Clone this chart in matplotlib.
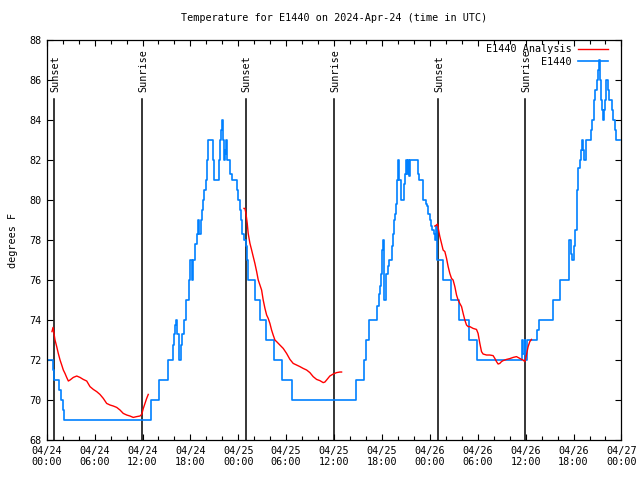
import matplotlib
matplotlib.use('Agg')
import matplotlib.pyplot as plt
from matplotlib.lines import Line2D
from matplotlib.ticker import MultipleLocator

plt.rcParams['font.family'] = ['DejaVu Sans Mono']
plt.rcParams['font.size'] = 7.3

# E1440 observations: hours since 2024-04-24 00:00 UTC, temperature (F), step changes
obs_hours = [0.00, 0.83, 0.91, 1.50, 1.75, 2.00, 2.17, 13.02, 14.10, 15.19,
             15.78, 15.94, 16.10, 16.19, 16.35, 16.53, 16.60, 16.82, 16.98, 17.16,
             17.41, 17.82, 17.94, 18.16, 18.36, 18.61, 18.78, 18.95, 19.11, 19.28,
             19.41, 19.53, 19.74, 19.91, 20.04, 20.16, 20.24, 20.79, 20.95, 21.54,
             21.70, 21.86, 21.95, 22.08, 22.16, 22.29, 22.36, 22.49, 22.61, 22.99,
             23.17, 23.79, 23.99, 24.20, 24.33, 24.49, 24.71, 24.92, 25.04, 25.24,
             26.12, 26.71, 27.46, 28.50, 29.43, 30.72, 38.77, 39.73, 39.98, 40.32,
             41.40, 41.57, 41.74, 41.86, 41.99, 42.07, 42.20, 42.27, 42.45, 42.52,
             42.70, 42.86, 43.20, 43.33, 43.45, 43.58, 43.70, 43.83, 43.90, 44.03,
             44.15, 44.33, 44.40, 44.74, 44.87, 44.99, 45.15, 45.24, 45.40, 45.53,
             46.49, 46.62, 47.16, 47.46, 47.66, 47.78, 47.96, 48.12, 48.28, 48.46,
             48.59, 48.71, 48.84, 48.91, 49.66, 50.66, 51.67, 52.92, 53.92, 59.52,
             59.68, 59.86, 59.98, 60.11, 61.43, 61.68, 63.44, 64.27, 65.37, 65.44,
             65.69, 65.82, 66.03, 66.19, 66.37, 66.49, 66.62, 66.78, 66.94, 67.07,
             67.24, 67.32, 67.53, 67.62, 68.19, 68.37, 68.53, 68.75, 68.91, 69.07,
             69.20, 69.28, 69.41, 69.53, 69.66, 69.78, 69.95, 70.12, 70.29, 70.45,
             70.79, 70.95, 71.20, 71.38, 71.80]
obs_temps = [72, 71.5, 71, 70.5, 70, 69.5, 69, 70, 71, 72,
             72.75, 73.3, 73.75, 74, 73.3, 72.25, 72, 72.75, 73.3, 74,
             75, 76, 77, 76, 77, 77.8, 78.3, 79, 78.3, 79,
             79.5, 80, 80.5, 81, 82, 82.5, 83, 82, 81, 82,
             83, 83.5, 84, 83, 82, 82.5, 82.3, 83, 82, 81.3,
             81, 80.5, 80, 79.5, 79, 78.3, 78, 77.7, 77, 76,
             75, 74, 73, 72, 71, 70, 71, 72, 73, 74,
             74.7, 75.3, 75.7, 76.3, 77.5, 78, 76.3, 75, 75.3, 76.3,
             76.7, 77, 77.7, 78.3, 79, 79.3, 79.8, 80.5, 81, 82,
             81, 80.5, 80, 80.8, 81.3, 82, 81.3, 82, 81.2, 82,
             81.3, 81, 80, 79.8, 79.7, 79.3, 79, 78.7, 78.5, 78.3,
             78, 78.7, 78, 77, 76, 75, 74, 73, 72, 73,
             72.3, 73, 72, 73, 73.5, 74, 75, 76, 76.5, 78,
             77.3, 77, 77.7, 78.5, 79.5, 80.5, 81.6, 82, 82.5, 83,
             82.5, 82, 82.5, 83, 83.5, 84, 85, 85.5, 86, 86.5,
             87, 86, 85, 84.5, 84, 84.5, 85, 86, 85.5, 85,
             84.5, 84, 83.5, 83, 83]

# E1440 analysis (three evening runs)
an1_hours = [0.66, 0.79, 0.91, 1.04, 1.25, 1.45, 1.67, 1.88, 2.08, 2.29,
             2.50, 2.71, 2.92, 3.33, 3.76, 4.17, 4.58, 5.01, 5.42, 5.84,
             6.26, 6.67, 7.09, 7.51, 7.93, 8.34, 8.77, 9.18, 9.59, 10.02,
             10.43, 10.84, 11.27, 11.68, 11.90, 12.10, 12.31, 12.52, 12.72]
an1_temps = [73.42, 73.63, 73.33, 73.0, 72.67, 72.33, 72.0, 71.75, 71.5, 71.33,
             71.13, 70.95, 71.0, 71.13, 71.2, 71.13, 71.03, 70.95, 70.67, 70.53,
             70.42, 70.28, 70.08, 69.83, 69.75, 69.7, 69.63, 69.5, 69.33, 69.25,
             69.2, 69.13, 69.17, 69.2, 69.28, 69.58, 69.83, 70.08, 70.28]
an2_hours = [24.71, 24.83, 24.96, 25.12, 25.24, 25.46, 25.67, 25.87, 26.08, 26.30,
             26.50, 26.71, 26.92, 27.12, 27.34, 27.55, 27.75, 27.96, 28.17, 28.37,
             28.59, 28.80, 29.21, 29.63, 30.05, 30.47, 30.88, 31.30, 31.72, 32.13,
             32.56, 32.97, 33.38, 33.81, 34.22, 34.64, 34.85, 35.06, 35.47, 35.89,
             36.31, 36.73, 36.94]
an2_temps = [79.58, 79.58, 79.33, 78.83, 78.33, 77.83, 77.5, 77.17, 76.83, 76.42,
             76.0, 75.75, 75.5, 75.0, 74.58, 74.25, 74.08, 73.83, 73.5, 73.25,
             73.0, 72.92, 72.75, 72.58, 72.33, 72.03, 71.83, 71.75, 71.67, 71.58,
             71.5, 71.37, 71.17, 71.03, 70.97, 70.87, 70.9, 71.0, 71.2, 71.3,
             71.37, 71.4, 71.4]
an3_hours = [48.62, 48.84, 48.96, 49.09, 49.25, 49.46, 49.66, 49.88, 50.09, 50.29,
             50.50, 50.71, 50.91, 51.13, 51.34, 51.54, 51.75, 51.97, 52.17, 52.38,
             52.59, 52.79, 53.01, 53.42, 53.84, 54.04, 54.26, 54.47, 54.67, 55.10,
             55.51, 55.92, 56.14, 56.35, 56.55, 56.76, 56.97, 57.18, 57.60, 58.01,
             58.43, 58.85, 59.27, 59.48, 59.68, 59.89, 60.02, 60.18, 60.31, 60.52,
             60.73]
an3_temps = [78.7, 78.75, 78.8, 78.5, 78.17, 77.83, 77.5, 77.42, 77.08, 76.67,
             76.33, 76.08, 76.0, 75.67, 75.25, 75.0, 74.83, 74.67, 74.33, 74.0,
             73.75, 73.67, 73.67, 73.58, 73.53, 73.33, 72.83, 72.42, 72.3, 72.25,
             72.25, 72.22, 72.08, 71.92, 71.8, 71.83, 71.92, 71.97, 72.03, 72.07,
             72.13, 72.17, 72.08, 72.03, 72.0, 71.92, 72.08, 72.42, 72.67, 72.92,
             73.03]

sun_hours = [0.95, 11.97, 24.96, 36.01, 49.04, 59.93]
sun_labels = ['Sunset', 'Sunrise', 'Sunset', 'Sunrise', 'Sunset', 'Sunrise']

tick_hours = list(range(0, 73, 6))
tick_labels = ['04/24\n00:00', '04/24\n06:00', '04/24\n12:00', '04/24\n18:00',
               '04/25\n00:00', '04/25\n06:00', '04/25\n12:00', '04/25\n18:00',
               '04/26\n00:00', '04/26\n06:00', '04/26\n12:00', '04/26\n18:00',
               '04/27\n00:00']

red = '#ff0000'
blue = '#0080ff'

fig = plt.figure(figsize=(6.4, 4.8), dpi=100)
ax = fig.add_axes([0.073, 0.0833, 0.898, 0.8333])

for h, lab in zip(sun_hours, sun_labels):
    ax.plot([h, h], [68, 85.05], color='black', lw=1.1, zorder=1)
    ax.text(h + 0.1, 85.4, lab, rotation=90, ha='center', va='bottom')

for hh, tt in [(an1_hours, an1_temps), (an2_hours, an2_temps), (an3_hours, an3_temps)]:
    ax.plot(hh, tt, color=red, lw=1.0, zorder=3)
ax.plot(obs_hours, obs_temps, color=blue, lw=1.2, drawstyle='steps-post', zorder=2)

ax.set_xlim(0, 72)
ax.set_ylim(68, 88)
ax.set_xticks(tick_hours)
ax.set_xticklabels(tick_labels)
ax.xaxis.set_minor_locator(MultipleLocator(2))
ax.set_yticks(range(68, 89, 2))
ax.tick_params(direction='in', top=True, right=True, length=4.5, width=0.8, pad=4)
ax.tick_params(which='minor', direction='in', top=True, length=3, width=0.8)
for sp in ax.spines.values():
    sp.set_linewidth(0.9)

ax.set_title('Temperature for E1440 on 2024-Apr-24 (time in UTC)', pad=14, fontsize=7.3)
ax.set_ylabel('degrees F', labelpad=8)

handles = [Line2D([], [], color=red, lw=1.0), Line2D([], [], color=blue, lw=1.2)]
ax.legend(handles, ['E1440 Analysis', 'E1440'], loc='upper right',
          bbox_to_anchor=(0.98, 0.995), frameon=False, markerfirst=False,
          handlelength=3.0, handletextpad=0.6, labelspacing=0.25,
          borderaxespad=0, borderpad=0.2, fontsize=7.3)

fig.savefig('out.png', dpi=100)
